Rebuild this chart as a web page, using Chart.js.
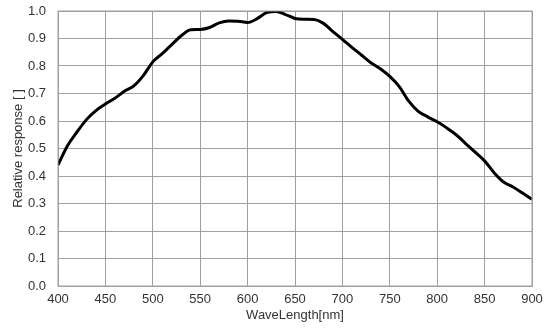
<!DOCTYPE html>
<html>
<head>
<meta charset="utf-8">
<script src="https://cdn.jsdelivr.net/npm/chart.js@4"></script>
<style>
  html, body { margin: 0; padding: 0; background: #fff; }
  #chart { display: block; }
</style>
</head>
<body>
<canvas id="chart" width="554" height="331"></canvas>
<script>
// wavelength in nm, every 10 nm
var wavelengths = [400, 410, 420, 430, 440, 450, 460, 470, 480, 490,
    500, 510, 520, 530, 540, 550, 560, 570, 580, 590,
    600, 610, 620, 630, 640, 650, 660, 670, 680, 690,
    700, 710, 720, 730, 740, 750, 760, 770, 780, 790,
    800, 810, 820, 830, 840, 850, 860, 870, 880, 890, 900];

var response = [0.44, 0.51, 0.56, 0.605, 0.638, 0.662, 0.683, 0.708, 0.728, 0.765,
    0.815, 0.845, 0.878, 0.91, 0.932, 0.933, 0.94, 0.957, 0.964, 0.963,
    0.958, 0.972, 0.994, 0.998, 0.987, 0.973, 0.97, 0.969, 0.955, 0.925,
    0.897, 0.868, 0.84, 0.812, 0.79, 0.762, 0.725, 0.672, 0.635, 0.615,
    0.597, 0.575, 0.55, 0.518, 0.487, 0.455, 0.412, 0.378, 0.36, 0.338, 0.315];

var xTicks = [400, 450, 500, 550, 600, 650, 700, 750, 800, 850, 900];
var yTicks = [0, 0.1, 0.2, 0.3, 0.4, 0.5, 0.6, 0.7, 0.8, 0.9, 1.0];

var points = wavelengths.map(function(w, i) {
    return { x: w, y: response[i] };
});

var gridColor = '#a0a0a0';
var textColor = '#333333';
var fontFamily = '"Liberation Sans", Arial, sans-serif';

var config = {
    type: 'scatter',
    data: {
        datasets: [{
            label: 'Relative response',
            data: points,
            showLine: true,
            borderColor: '#000000',
            borderWidth: 3,
            pointRadius: 0,
            tension: 0.4,
            cubicInterpolationMode: 'monotone'
        }]
    },
    options: {
        responsive: false,
        animation: false,
        layout: {
            padding: { left: 11, right: 22, top: 11, bottom: 6 }
        },
        plugins: {
            legend: { display: false },
            tooltip: { enabled: false }
        },
        scales: {
            x: {
                type: 'linear',
                min: 400,
                max: 900,
                afterBuildTicks: function(scale) {
                    scale.ticks = xTicks.map(function(v) { return { value: v }; });
                },
                afterFit: function(scale) {
                    scale.height = 39;
                },
                grid: { color: gridColor, lineWidth: 1, drawTicks: false },
                border: { color: gridColor },
                ticks: {
                    color: textColor,
                    font: { family: fontFamily, size: 13 },
                    padding: 6,
                    maxRotation: 0
                },
                title: {
                    display: true,
                    text: 'WaveLength[nm]',
                    color: textColor,
                    font: { family: fontFamily, size: 13 },
                    padding: { top: 0, bottom: 2 }
                }
            },
            y: {
                min: 0,
                max: 1,
                afterBuildTicks: function(scale) {
                    scale.ticks = yTicks.map(function(v) { return { value: v }; });
                },
                afterFit: function(scale) {
                    scale.width = 47;
                    scale.paddingTop = 0;
                    scale.paddingBottom = 0;
                },
                grid: { color: gridColor, lineWidth: 1, drawTicks: false },
                border: { color: gridColor },
                ticks: {
                    color: textColor,
                    font: { family: fontFamily, size: 13 },
                    padding: 12,
                    callback: function(v) { return Number(v).toFixed(1); }
                },
                title: {
                    display: true,
                    text: 'Relative response [ ]',
                    color: textColor,
                    font: { family: fontFamily, size: 13 },
                    padding: { top: 0, bottom: 0 }
                }
            }
        }
    }
};

// right edge of the plot box also needs a line
var frame = {
    id: 'frame',
    afterDraw: function(chart) {
        var a = chart.chartArea;
        var ctx = chart.ctx;
        ctx.save();
        ctx.strokeStyle = gridColor;
        ctx.lineWidth = 1;
        ctx.strokeRect(a.left, a.top, a.right - a.left, a.bottom - a.top);
        ctx.restore();
    }
};

var myChart = new Chart(document.getElementById('chart'), {
    type: config.type,
    data: config.data,
    options: config.options,
    plugins: [frame]
});
</script>
</body>
</html>
